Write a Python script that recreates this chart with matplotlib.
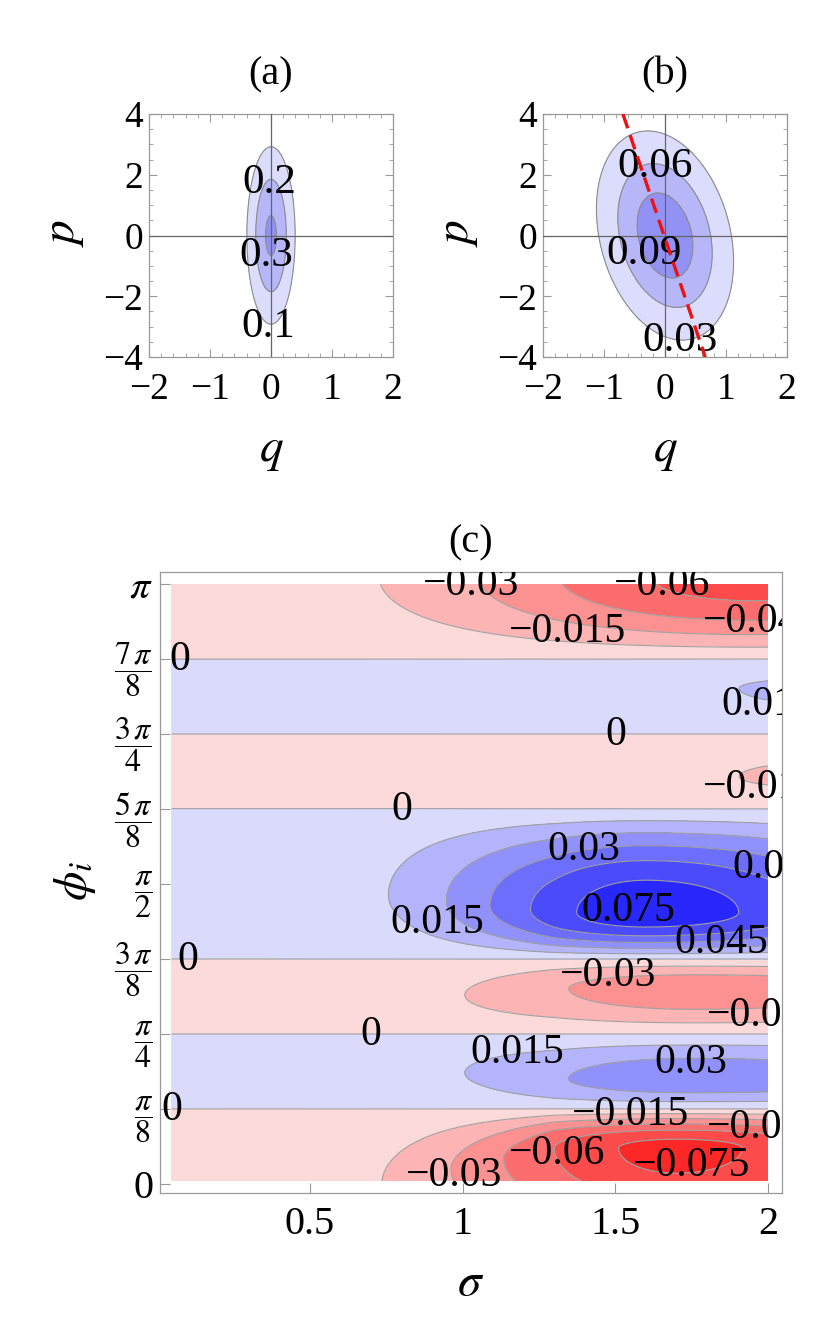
import numpy as np
import matplotlib.pyplot as plt
from matplotlib.colors import ListedColormap, BoundaryNorm
from matplotlib.ticker import MultipleLocator

plt.rcParams['font.family'] = ['Liberation Serif', 'DejaVu Serif']
plt.rcParams['mathtext.fontset'] = 'stix'

# ---- panel (a): narrow gaussian
a_peak = 0.318
a_width_q = 0.26
a_width_p = 1.92
a_levels = [0.1, 0.2, 0.3]
a_label_q = [-0.03, -0.08, -0.05]
a_label_p = [1.75, -0.66, -3.0]
a_label_txt = ["0.2", "0.3", "0.1"]

# ---- panel (b): broader tilted gaussian + dashed line
b_var_q = 0.48
b_var_p = 4.5
b_cov_qp = -0.37
b_levels = [0.03, 0.06, 0.09]
b_label_q = [-0.17, -0.34, 0.25]
b_label_p = [2.27, -0.6, -3.45]
b_label_txt = ["0.06", "0.09", "0.03"]
b_line_q = [-0.69, 0.66]
b_line_p = [4.0, -4.0]

# ---- panel (c): bands between zero lines (phi in units of pi)
band_lo = [-1/8, 1/8, 1/4, 3/8, 5/8, 3/4, 7/8]
band_hi = [1/8, 1/4, 3/8, 5/8, 3/4, 7/8, 9/8]
band_sign = [-1, 1, -1, 1, -1, 1, -1]
band_amp = [0.080, 0.040, 0.040, 0.085, 0.0175, 0.0175, 0.067]
band_s0 = [1.70, 1.75, 1.75, 1.60, 2.20, 2.20, 1.95]
band_wl = [0.745, 0.75, 0.75, 0.64, 0.75, 0.75, 1.00]
band_wr = [0.85, 1.20, 1.20, 0.86, 1.00, 1.00, 1.00]
band_t0 = [0.45, 0.60, 0.40, 0.46, 0.50, 0.50, 0.55]   # peak position in band, small sigma
band_t1 = [0.74, 0.40, 0.61, 0.31, 0.43, 0.61, 0.55]   # peak position in band, large sigma

c_levels = [-0.15, -0.075, -0.06, -0.045, -0.03, -0.015, 0,
            0.015, 0.03, 0.045, 0.06, 0.075, 0.15]
c_colors = ['#fc2828', '#fc4b4b', '#fc6e6e', '#fc9191', '#fcb4b4', '#fddada',
            '#dadafc', '#b4b4fc', '#9191fc', '#6e6efc', '#4b4bfc', '#2828fc']

# contour labels of (c): sigma, phi/pi, text, horizontal alignment
c_lab_s = [1.027, 1.653, 1.342, 1.787, 1.849, 1.502, 1.787, 0.801, 1.397, 1.882,
           0.916, 1.542, 1.846, 0.100, 1.476, 1.800, 0.700, 1.178, 1.748, 0.048,
           1.551, 1.800, 1.309, 1.751, 0.972, 0.074]
c_lab_p = [0.998, 0.998, 0.920, 0.937, 0.798, 0.748, 0.660, 0.623, 0.557, 0.527,
           0.435, 0.455, 0.402, 0.373, 0.347, 0.280, 0.248, 0.218, 0.202, 0.123,
           0.115, 0.093, 0.050, 0.030, 0.013, 0.873]
c_lab_txt = ["\u22120.03", "\u22120.06", "\u22120.015", "\u22120.045", "0.015", "0",
             "\u22120.015", "0", "0.03", "0.06", "0.015", "0.075", "0.045", "0",
             "\u22120.03", "\u22120.015", "0", "0.015", "0.03", "0",
             "\u22120.015", "\u22120.045", "\u22120.06", "\u22120.075", "\u22120.03", "0"]
c_lab_ha = ['center', 'center', 'center', 'left', 'left', 'center', 'left', 'center',
            'center', 'left', 'center', 'center', 'center', 'center', 'center', 'left',
            'center', 'center', 'center', 'center', 'center', 'left', 'center', 'center',
            'center', 'center']

phi_ticks = [0, 1/8, 1/4, 3/8, 1/2, 5/8, 3/4, 7/8, 1]
phi_ticklabels = ['0', r'$\dfrac{\pi}{8}$', r'$\dfrac{\pi}{4}$', r'$\dfrac{3\,\pi}{8}$',
                  r'$\dfrac{\pi}{2}$', r'$\dfrac{5\,\pi}{8}$', r'$\dfrac{3\,\pi}{4}$',
                  r'$\dfrac{7\,\pi}{8}$', r'$\pi$']
sigma_ticks = [0.5, 1, 1.5, 2]
sigma_ticklabels = ['0.5', '1', '1.5', '2']

W, H = 830, 1327
fig = plt.figure(figsize=(8.3, 13.27), dpi=100)

def frame(ax, color='#999999'):
    for s in ax.spines.values():
        s.set_color(color)
        s.set_linewidth(0.9)

wig_colors = ['#dcdcfc', '#b6b6f8', '#9292f4']

# ---------- (a) and (b)
q = np.linspace(-2, 2, 401)
p = np.linspace(-4, 4, 801)
Q, Pm = np.meshgrid(q, p)

Wa = a_peak * np.exp(-Q**2 / (2 * a_width_q**2) - Pm**2 / (2 * a_width_p**2))
det = b_var_q * b_var_p - b_cov_qp**2
Wb = np.exp(-0.5 * (b_var_p * Q**2 - 2 * b_cov_qp * Q * Pm + b_var_q * Pm**2) / det) \
    / (2 * np.pi * np.sqrt(det))

panels = [(149, '(a)', Wa, a_levels, a_label_q, a_label_p, a_label_txt),
          (543, '(b)', Wb, b_levels, b_label_q, b_label_p, b_label_txt)]
for x0, title, Z, lev, lq, lp, lt in panels:
    ax = fig.add_axes([x0 / W, 1 - 357 / H, 244 / W, 243 / H])
    ax.contourf(Q, Pm, Z, levels=lev + [1.0], colors=wig_colors)
    ax.contour(Q, Pm, Z, levels=lev, colors='#8c8c8c', linewidths=0.8,
               linestyles='solid')
    ax.axhline(0, color='#666666', lw=0.9, zorder=3)
    ax.axvline(0, color='#666666', lw=0.9, zorder=3)
    for a, b, t in zip(lq, lp, lt):
        ax.text(a, b, t, ha='center', va='center', fontsize=31, zorder=5)
    ax.set_xlim(-2, 2)
    ax.set_ylim(-4, 4)
    ax.set_xticks([-2, -1, 0, 1, 2])
    ax.set_yticks([-4, -2, 0, 2, 4])
    ax.xaxis.set_minor_locator(MultipleLocator(0.2))
    ax.yaxis.set_minor_locator(MultipleLocator(0.5))
    ax.tick_params(which='both', direction='in', top=True, right=True, color='#999999')
    ax.tick_params(which='major', length=6, width=0.8, labelsize=27)
    ax.tick_params(which='minor', length=3, width=0.6)
    ax.tick_params(axis='x', pad=11)
    ax.tick_params(axis='y', pad=4)
    frame(ax)
    cx = (x0 + 122) / W
    fig.text(cx, 1 - 75 / H, title, ha='center', va='center', fontsize=29)
    fig.text(cx, 1 - 452 / H, r'$q$', ha='center', va='center', fontsize=34)
    fig.text((x0 - 84) / W, 1 - 233 / H, r'$p$', ha='center', va='center',
             fontsize=34, rotation=90)
    if title == '(b)':
        ax.plot(b_line_q, b_line_p, color='#ee1111', lw=2.4,
                linestyle=(0, (4.5, 2.2)), zorder=6)

# ---------- (c)
sig = np.linspace(0.048, 2.0, 500)
phi = np.linspace(0.005, 1.0, 700)
S, P = np.meshgrid(sig, phi)
F = np.zeros_like(S)
ramp = np.clip((S - 0.6) / 0.7, 0, 1)
for lo, hi, sg, amp, s0, wl, wr, t0, t1 in zip(band_lo, band_hi, band_sign, band_amp,
                                               band_s0, band_wl, band_wr, band_t0, band_t1):
    t = (P - lo) / (hi - lo)
    tp = t0 + (t1 - t0) * ramp
    bump = np.where(t < tp, np.sin(np.pi * t / (2 * tp)),
                    np.cos(np.pi * (t - tp) / (2 * (1 - tp))))
    w = np.where(S < s0, wl, wr)
    env = np.exp(-((S - s0) / w) ** 2)
    inside = (t > 0) & (t < 1)
    F += np.where(inside, sg * amp * env * bump, 0.0)

axc = fig.add_axes([160 / W, 1 - 1193 / H, 622 / W, 621 / H])
cmap = ListedColormap(c_colors)
norm = BoundaryNorm(c_levels, cmap.N)
axc.contourf(S, P, F, levels=c_levels, cmap=cmap, norm=norm)
axc.contour(S, P, F, levels=c_levels[1:-1], colors='#a0a0a0', linewidths=0.8,
            linestyles='solid')
for s, ph, t, ha in zip(c_lab_s, c_lab_p, c_lab_txt, c_lab_ha):
    axc.text(s, ph, t, ha=ha, va='center', fontsize=30, clip_on=True, zorder=5)
axc.set_xlim(0.009, 2.046)
axc.set_ylim(-0.015, 1.02)
axc.set_xticks(sigma_ticks, sigma_ticklabels)
axc.set_yticks(phi_ticks, phi_ticklabels)
axc.tick_params(direction='in', color='#999999', length=7, width=0.8, labelsize=29)
axc.tick_params(axis='x', pad=9)
axc.tick_params(axis='y', pad=5)
for i, tk in enumerate(axc.yaxis.get_major_ticks()):
    if 0 < i < len(phi_ticks) - 1:
        tk.label1.set_fontsize(23)
frame(axc)
fig.text(471 / W, 1 - 543 / H, '(c)', ha='center', va='center', fontsize=29)
fig.text(471 / W, 1 - 1284 / H, r'$\sigma$', ha='center', va='center', fontsize=34)
fig.text(75 / W, 1 - 881 / H, r'$\phi_i$', ha='center', va='center', fontsize=34,
         rotation=90)

fig.savefig('out.png', dpi=100)
